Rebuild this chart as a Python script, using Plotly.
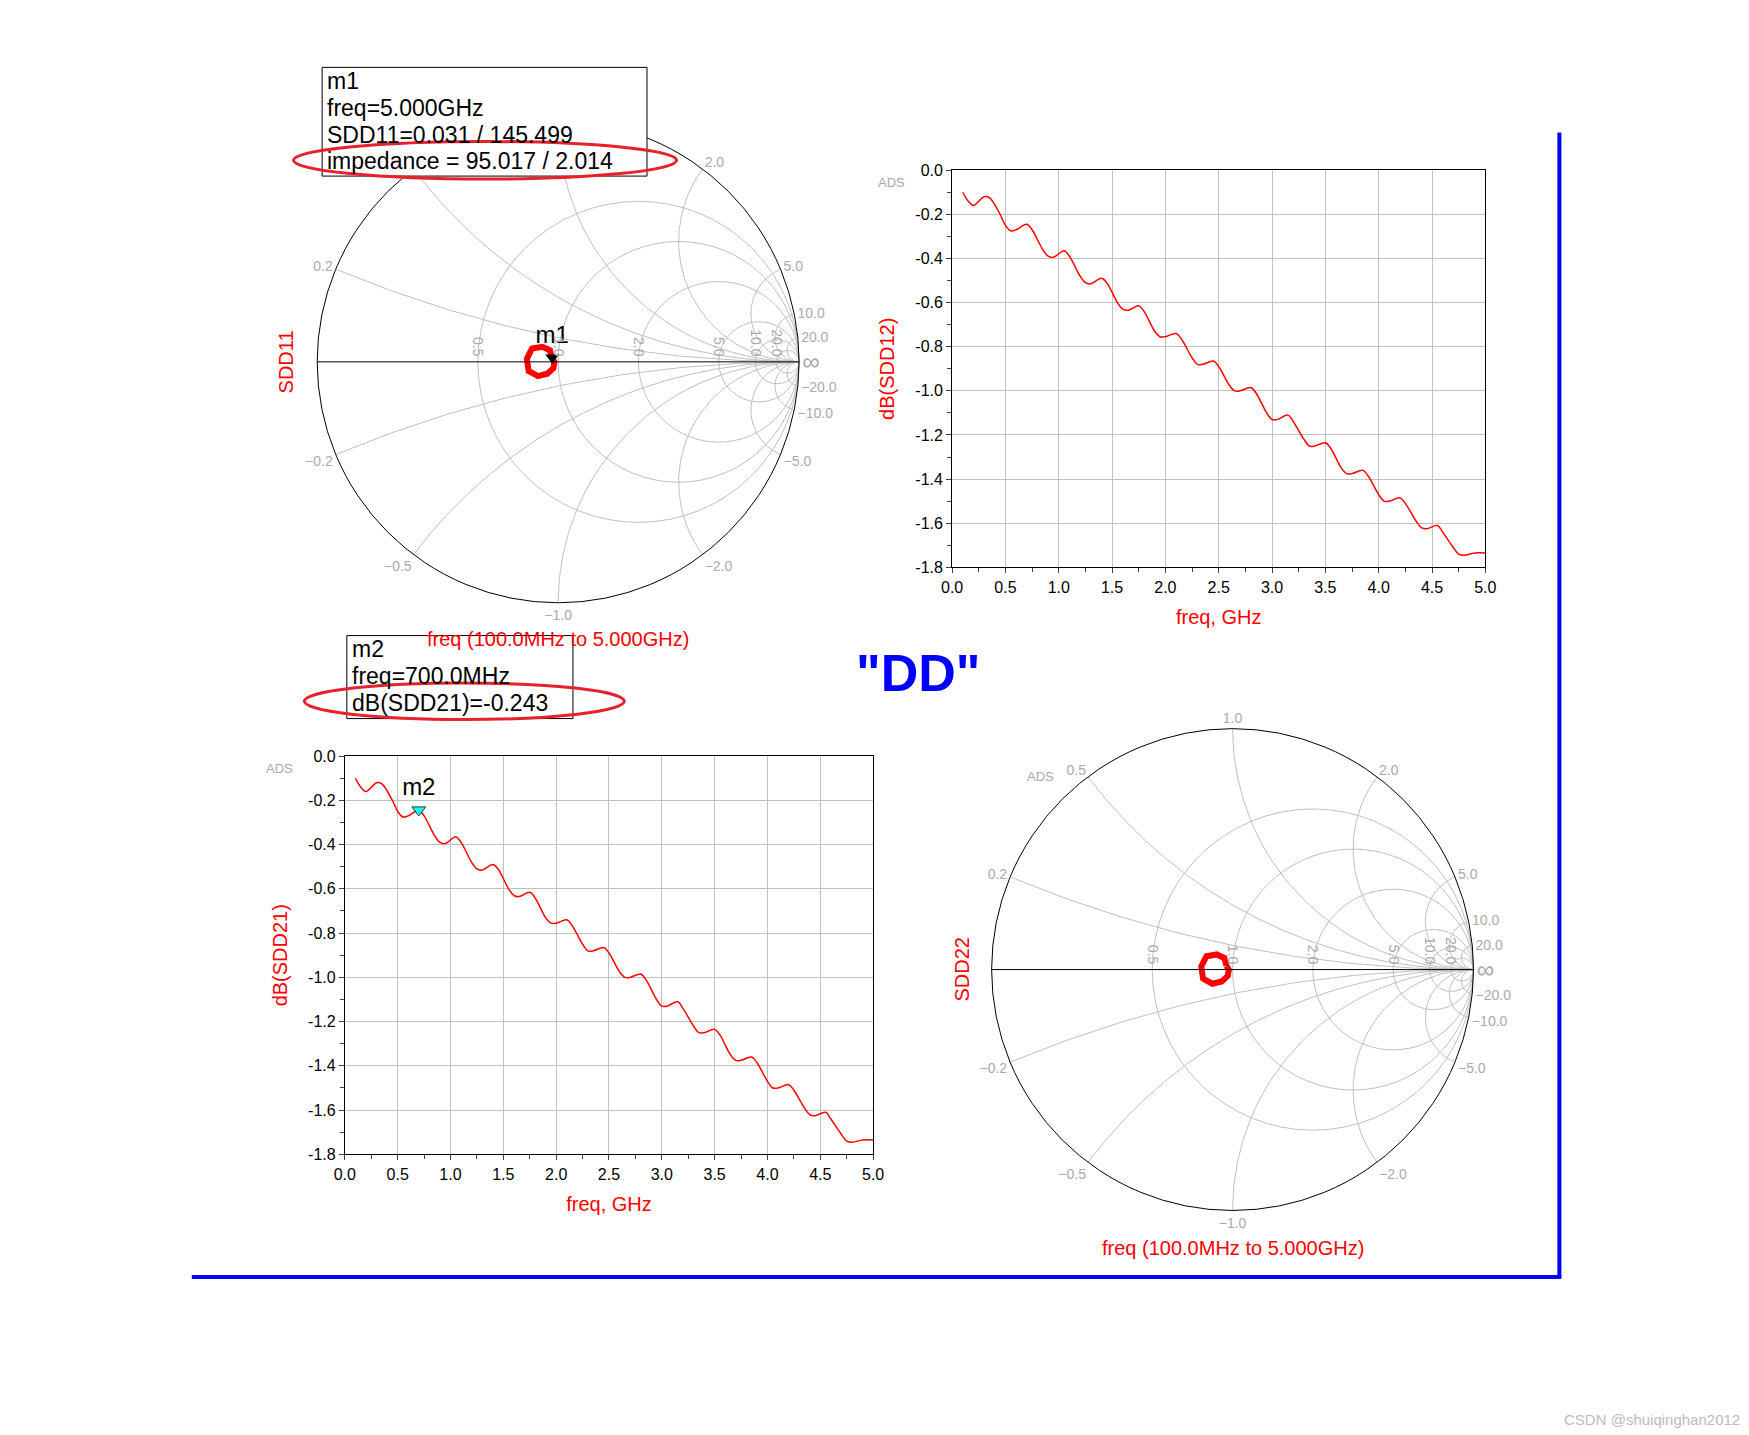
import plotly.graph_objects as go

W, H = 1749, 1435

freq = [0.1, 0.15, 0.2, 0.3, 0.35, 0.45, 0.5, 0.55, 0.6, 0.7, 0.75, 0.85, 0.9, 0.95, 1.05, 1.1,
        1.2, 1.25, 1.3, 1.4, 1.45, 1.55, 1.6, 1.65, 1.75, 1.8, 1.9, 1.95, 2.0, 2.1, 2.15,
        2.25, 2.3, 2.35, 2.45, 2.5, 2.6, 2.65, 2.7, 2.8, 2.85, 2.95, 3.0, 3.05, 3.15, 3.2,
        3.3, 3.35, 3.4, 3.5, 3.55, 3.65, 3.7, 3.75, 3.85, 3.9, 4.0, 4.05, 4.1, 4.2, 4.25,
        4.35, 4.4, 4.45, 4.55, 4.6, 4.7, 4.75, 4.8, 4.9, 5.0]
db_sdd = [-0.10, -0.14, -0.16, -0.12, -0.125, -0.20, -0.25, -0.275, -0.27, -0.245, -0.27,
          -0.36, -0.39, -0.395, -0.365, -0.39, -0.48, -0.51, -0.515, -0.49, -0.51,
          -0.60, -0.63, -0.635, -0.615, -0.64, -0.73, -0.755, -0.755, -0.74, -0.765,
          -0.85, -0.88, -0.88, -0.865, -0.89, -0.975, -1.0, -1.0, -0.985, -1.01,
          -1.10, -1.13, -1.13, -1.11, -1.14, -1.22, -1.25, -1.25, -1.235, -1.26,
          -1.35, -1.375, -1.375, -1.36, -1.385, -1.47, -1.50, -1.50, -1.485, -1.51,
          -1.59, -1.62, -1.625, -1.61, -1.64, -1.71, -1.74, -1.745, -1.735, -1.735]

# SDD11 / SDD22 loop (normalized impedance)
z_re = [0.95, 0.93, 0.87, 0.80, 0.77, 0.78, 0.84, 0.91, 0.96, 0.97, 0.95]
z_im = [0.03, 0.09, 0.11, 0.09, 0.02, -0.06, -0.10, -0.09, -0.05, 0.00, 0.03]
m1_re, m1_im = [0.951], [0.034]
m2_f, m2_db = [0.7], [-0.243]

m1_lines = ["m1", "freq=5.000GHz", "SDD11=0.031 / 145.499", "impedance = 95.017 / 2.014"]
m2_lines = ["m2", "freq=700.0MHz", "dB(SDD21)=-0.243"]

xticks = [0.0, 0.5, 1.0, 1.5, 2.0, 2.5, 3.0, 3.5, 4.0, 4.5, 5.0]
yticks = [-1.8, -1.6, -1.4, -1.2, -1.0, -0.8, -0.6, -0.4, -0.2, 0.0]
re_ticks = [0.5, 1.0, 2.0, 5.0, 10, 20]
im_ticks = [-20, -10, -5.0, -2.0, -1.0, -0.5, -0.2, 0.2, 0.5, 1.0, 2.0, 5.0, 10, 20]

def px(x):
    return x / W

def py(y):
    return 1 - y / H

fig = go.Figure()
fig.add_trace(go.Scattersmith(real=z_re, imag=z_im, mode="lines", line=dict(color="red", width=6),
                              subplot="smith", showlegend=False))
fig.add_trace(go.Scattersmith(real=m1_re, imag=m1_im, mode="markers+text", text=["m1"],
                              textposition="top center", textfont=dict(size=24, color="black"),
                              marker=dict(symbol="triangle-down", color="black", size=12),
                              subplot="smith", showlegend=False))
fig.add_trace(go.Scattersmith(real=z_re, imag=z_im, mode="lines", line=dict(color="red", width=6),
                              subplot="smith2", showlegend=False))
fig.add_trace(go.Scatter(x=freq, y=db_sdd, mode="lines", line=dict(color="red", width=1.5, shape="spline"),
                         xaxis="x", yaxis="y", showlegend=False))
fig.add_trace(go.Scatter(x=freq, y=db_sdd, mode="lines", line=dict(color="red", width=1.5, shape="spline"),
                         xaxis="x2", yaxis="y2", showlegend=False))
fig.add_trace(go.Scatter(x=m2_f, y=m2_db, mode="markers+text", text=["m2"], textposition="top center",
                         textfont=dict(size=24, color="black"),
                         marker=dict(symbol="triangle-down", color="cyan", size=12, line=dict(color="#333", width=1)),
                         xaxis="x2", yaxis="y2", showlegend=False))

smith_common = dict(
    bgcolor="white",
    realaxis=dict(tickvals=re_ticks, gridcolor="#c0c0c0", linecolor="black", tickformat=".1f",
                  tickfont=dict(color="#aaa", size=14), ticks=""),
    imaginaryaxis=dict(tickvals=im_ticks, gridcolor="#c0c0c0", linecolor="black", tickformat=".1f",
                       tickfont=dict(color="#aaa", size=14), ticks=""),
)

def xy_axes(dom_x, dom_y, anchor_x, anchor_y):
    xa = dict(domain=dom_x, range=[0, 5], tickvals=xticks, ticktext=[f"{v:.1f}" for v in xticks],
              showgrid=True, gridcolor="#c0c0c0", showline=True, linecolor="black", mirror=True,
              ticks="outside", tickfont=dict(size=16, color="black"), anchor=anchor_y, zeroline=False,
              title=dict(text="freq, GHz", font=dict(color="red", size=20)),
              minor=dict(ticks="outside", dtick=0.25, ticklen=4, showgrid=False))
    ya = dict(domain=dom_y, range=[-1.8, 0], tickvals=yticks, ticktext=[f"{v:.1f}" for v in yticks],
              showgrid=True, gridcolor="#c0c0c0", showline=True, linecolor="black", mirror=True,
              ticks="outside", tickfont=dict(size=16, color="black"), anchor=anchor_x, zeroline=False,
              minor=dict(ticks="outside", dtick=0.1, ticklen=4, showgrid=False))
    return xa, ya

xa1, ya1 = xy_axes([px(945), px(1485)], [py(558), py(156)], "x", "y")
ya1["title"] = dict(text="dB(SDD12)", font=dict(color="red", size=20))
xa2, ya2 = xy_axes([px(330), px(865)], [py(1152), py(749)], "x2", "y2")
ya2["title"] = dict(text="dB(SDD21)", font=dict(color="red", size=20))

fig.update_layout(
    width=W, height=H, autosize=False, margin=dict(l=0, r=0, t=0, b=0),
    paper_bgcolor="white", plot_bgcolor="white",
    font=dict(family="Arial, Liberation Sans, sans-serif"),
    smith=dict(domain=dict(x=[px(302), px(790)], y=[py(594), py(106)]), **smith_common),
    smith2=dict(domain=dict(x=[px(985), px(1473)], y=[py(1209), py(721)]), **smith_common),
    xaxis=xa1, yaxis=ya1, xaxis2=xa2, yaxis2=ya2,
)

shapes = [
    dict(type="rect", x0=px(307), x1=px(636), y0=py(162), y1=py(52), line=dict(color="black", width=1),
         fillcolor="white", layer="above"),
    dict(type="rect", x0=px(332), x1=px(561), y0=py(711), y1=py(627), line=dict(color="black", width=1),
         fillcolor="white", layer="above"),
    dict(type="circle", x0=px(278), x1=px(666), y0=py(165), y1=py(127), line=dict(color="#e8202a", width=3)),
    dict(type="circle", x0=px(289), x1=px(613), y0=py(712), y1=py(675), line=dict(color="#e8202a", width=3)),
    dict(type="line", x0=px(1560), x1=px(1560), y0=py(118), y1=py(1276), line=dict(color="blue", width=4)),
    dict(type="line", x0=px(175), x1=px(1562), y0=py(1276), y1=py(1276), line=dict(color="blue", width=4)),
]
for s in shapes:
    s["xref"] = "paper"
    s["yref"] = "paper"
    fig.add_shape(**s)

ann = [
    dict(x=px(270), y=py(350), text="SDD11", textangle=-90, font=dict(color="red", size=20)),
    dict(x=px(955), y=py(965), text="SDD22", textangle=-90, font=dict(color="red", size=20)),
    dict(x=px(546), y=py(630), text="freq (100.0MHz to 5.000GHz)", font=dict(color="red", size=20)),
    dict(x=px(1229), y=py(1247), text="freq (100.0MHz to 5.000GHz)", font=dict(color="red", size=20)),
    dict(x=px(910), y=py(665), text="<b>\"DD\"</b>", font=dict(color="blue", size=52)),
    dict(x=px(884), y=py(168), text="ADS", font=dict(color="#aaa", size=13)),
    dict(x=px(264), y=py(762), text="ADS", font=dict(color="#aaa", size=13)),
    dict(x=px(1035), y=py(770), text="ADS", font=dict(color="#aaa", size=13)),
    dict(x=px(1745), y=py(1420), text="CSDN @shuiqinghan2012", xanchor="right",
         font=dict(color="#bbb", size=15)),
]
for i, t in enumerate(m1_lines):
    ann.append(dict(x=px(310), y=py(66 + 27 * i), text=t, xanchor="left", font=dict(size=23, color="black")))
for i, t in enumerate(m2_lines):
    ann.append(dict(x=px(335), y=py(641 + 27 * i), text=t, xanchor="left", font=dict(size=23, color="black")))
for a in ann:
    a.setdefault("xref", "paper")
    a.setdefault("yref", "paper")
    a.setdefault("xanchor", "center")
    a.setdefault("yanchor", "middle")
    a.setdefault("showarrow", False)
    fig.add_annotation(**a)

fig.write_html("out.html")
